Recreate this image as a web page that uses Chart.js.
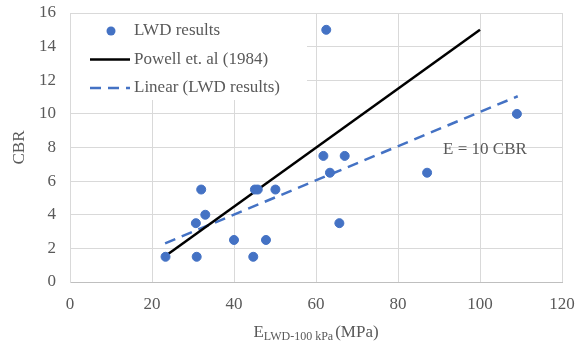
<!DOCTYPE html>
<html>
<head>
<meta charset="utf-8">
<script src="https://cdn.jsdelivr.net/npm/chart.js@4/dist/chart.umd.min.js"></script>
<style>
  html, body { margin: 0; padding: 0; background: #fff; }
  #wrap { width: 587px; height: 347px; }
</style>
</head>
<body>
<div id="wrap"><canvas id="myChart"></canvas></div>
<script>
// LWD measurements: modulus (MPa) and CBR
var lwdE   = [23.3, 30.9, 32, 30.7, 33, 40, 44.7, 45.1, 45.8, 47.8, 50.1, 62.5, 61.8, 67, 63.4, 87.1, 109, 65.7];
var lwdCBR = [1.5, 1.5, 5.5, 3.5, 4, 2.5, 1.5, 5.5, 5.5, 2.5, 5.5, 15, 7.5, 7.5, 6.5, 6.5, 10, 3.5];

// Powell et. al (1984) line end points
var powellE   = [23.6, 100];
var powellCBR = [1.6, 15];

// linear trend of the LWD results, end points
var trendE   = [23.2, 109.2];
var trendCBR = [2.3, 11.05];

var legendLabels = ["LWD results", "Powell et. al (1984)", "Linear (LWD results)"];
var noteText = "E = 10 CBR";
var noteAt = {x: 91, y: 7.85};

var blue = "#4472C4";
var gray = "#595959";
var serif = "'Liberation Serif', 'Times New Roman', serif";

function pairs(xs, ys) {
    var out = [];
    for (let i = 0; i < xs.length; i++) {
        out.push({x: xs[i], y: ys[i]});
    }
    return out;
}

// legend box, note and the x title with its subscript
var extras = {
    id: "extras",
    afterDraw: function(chart) {
        var c = chart.ctx;
        var area = chart.chartArea;
        c.save();

        // legend (sits inside the plot, white behind it)
        c.fillStyle = "#fff";
        c.fillRect(area.left + 1, area.top + 1, 236, 86);
        c.font = "17px " + serif;
        c.fillStyle = gray;
        c.textBaseline = "middle";
        var rows = [31, 59.5, 88];
        var tx = 134;
        // dot
        c.beginPath();
        c.arc(111, rows[0], 4.5, 0, Math.PI * 2);
        c.fillStyle = blue;
        c.fill();
        // solid black
        c.beginPath();
        c.moveTo(90, rows[1]); c.lineTo(130, rows[1]);
        c.strokeStyle = "#000"; c.lineWidth = 2.5; c.stroke();
        // dashed blue
        c.beginPath();
        c.setLineDash([11, 7]);
        c.moveTo(90, rows[2]); c.lineTo(130, rows[2]);
        c.strokeStyle = blue; c.stroke();
        c.setLineDash([]);
        c.fillStyle = gray;
        for (let i = 0; i < legendLabels.length; i++) {
            c.fillText(legendLabels[i], tx, rows[i]);
        }

        // note near the lines
        var xs = chart.scales.x, ys = chart.scales.y;
        c.fillText(noteText, xs.getPixelForValue(noteAt.x), ys.getPixelForValue(noteAt.y));

        // y title
        c.save();
        c.translate(20, (area.top + area.bottom) / 2);
        c.rotate(-Math.PI / 2);
        c.textAlign = "center";
        c.fillText("CBR", 0, 0);
        c.restore();

        // x title: E with subscript, then (MPa)
        c.textBaseline = "alphabetic";
        var big = "17px " + serif, small = "12px " + serif;
        c.font = big;
        var w1 = c.measureText("E").width;
        var w3 = c.measureText("(MPa)").width;
        c.font = small;
        var w2 = c.measureText("LWD-100 kPa").width;
        var total = w1 + w2 + 2 + w3;
        var x0 = (area.left + area.right) / 2 - total / 2;
        var base = 337;
        c.font = big;
        c.fillText("E", x0, base);
        c.font = small;
        c.fillText("LWD-100 kPa", x0 + w1, base + 3);
        c.font = big;
        c.fillText("(MPa)", x0 + w1 + w2 + 2, base);

        c.restore();
    }
};

const ctx = document.getElementById("myChart");

var myChart = new Chart(ctx, {
    type: "scatter",
    data: {
        datasets: [{
            label: legendLabels[0],
            data: pairs(lwdE, lwdCBR),
            backgroundColor: blue,
            borderColor: blue,
            pointRadius: 4.5,
            pointHoverRadius: 4.5,
            showLine: false
        }, {
            label: legendLabels[1],
            data: pairs(powellE, powellCBR),
            borderColor: "#000",
            borderWidth: 2.5,
            pointRadius: 0,
            showLine: true
        }, {
            label: legendLabels[2],
            data: pairs(trendE, trendCBR),
            borderColor: blue,
            borderWidth: 2.5,
            borderDash: [11, 7],
            pointRadius: 0,
            showLine: true
        }]
    },
    options: {
        responsive: true,
        maintainAspectRatio: false,
        animation: false,
        layout: { padding: { top: 13, right: 25, left: 0, bottom: 0 } },
        plugins: {
            legend: { display: false },
            tooltip: { enabled: false }
        },
        scales: {
            x: {
                type: "linear",
                min: 0,
                max: 120,
                ticks: { stepSize: 20, color: gray, padding: 12, font: { family: serif, size: 17 } },
                grid: { color: "#d9d9d9", lineWidth: 1, drawTicks: false },
                border: { color: "#bfbfbf" },
                afterFit: function(s) { s.height = 65; s.paddingLeft = 0; s.paddingRight = 0; }
            },
            y: {
                min: 0,
                max: 16,
                ticks: { stepSize: 2, color: gray, padding: 14, font: { family: serif, size: 17 } },
                grid: { color: "#d9d9d9", lineWidth: 1, drawTicks: false },
                border: { color: "#d9d9d9" },
                afterFit: function(s) { s.width = 70; s.paddingTop = 0; s.paddingBottom = 0; }
            }
        }
    },
    plugins: [extras]
});
</script>
</body>
</html>
